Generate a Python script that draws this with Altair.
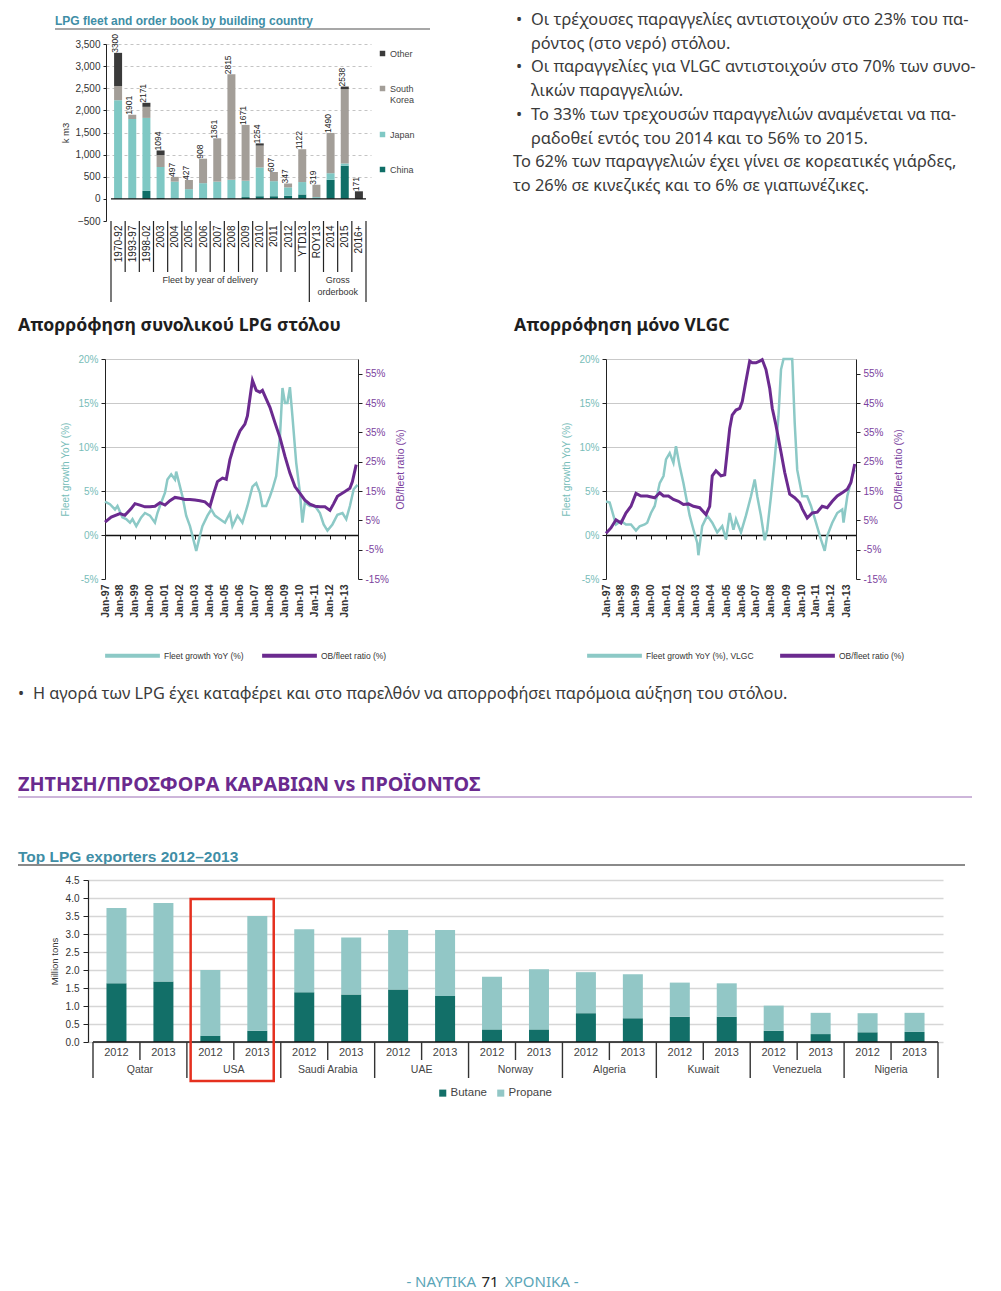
import json
import altair as alt
import pandas as pd

CHART_FONT = "Liberation Sans"
TEXT_FONT = "Noto Sans"

# ---------------- data: LPG fleet and order book ----------------
fleet_cats = ["1970-92", "1993-97", "1998-02", "2003", "2004", "2005", "2006", "2007", "2008",
              "2009", "2010", "2011", "2012", "YTD13", "ROY13", "2014", "2015", "2016+"]
fleet_china = [0, 0, 180, 20, 0, 0, 15, 0, 0, 40, 60, 60, 70, 100, 0, 430, 750, 0]
fleet_japan = [2230, 1805, 1650, 700, 390, 220, 340, 390, 430, 370, 650, 340, 190, 280, 40, 150, 50, 0]
fleet_korea = [320, 96, 250, 270, 107, 207, 553, 960, 2385, 1261, 494, 207, 87, 742, 279, 910, 1680, 0]
fleet_other = [750, 0, 91, 104, 0, 0, 0, 11, 0, 0, 50, 0, 0, 0, 0, 0, 58, 171]
fleet_builders = ["China", "Japan", "South Korea", "Other"]
fleet_colors = ["#0f6e67", "#7fc8c4", "#a39e98", "#3a3a3a"]
fleet_groups = ["Fleet by year of delivery", "Gross\norderbook"]
fleet_group_first = [0, 14]

# ---------------- data: fleet absorption lines ----------------
g1_dates = ["1997-01", "1997-05", "1997-09", "1997-11", "1998-03", "1998-06", "1998-09", "1998-11",
            "1999-02", "1999-06", "1999-09", "2000-01", "2000-05", "2000-07", "2000-10", "2001-01",
            "2001-03", "2001-06", "2001-09", "2001-10", "2002-01", "2002-03", "2002-06", "2002-09",
            "2002-11", "2003-02", "2003-05", "2003-07", "2003-11", "2004-02", "2004-05", "2004-09",
            "2005-01", "2005-05", "2005-07", "2005-11", "2006-03", "2006-07", "2006-11", "2007-02",
            "2007-05", "2007-07", "2007-10", "2008-01", "2008-03", "2008-06", "2008-09", "2008-11",
            "2009-01", "2009-03", "2009-05", "2009-07", "2009-10", "2010-01", "2010-03", "2010-05",
            "2010-09", "2011-01", "2011-05", "2011-08", "2011-11", "2012-03", "2012-07", "2012-11",
            "2013-02", "2013-05", "2013-08", "2013-11"]
g1_vals = [3.8, 3.5, 2.9, 3.3, 2.0, 1.8, 1.4, 1.8, 1.0, 2.0, 2.5, 2.2, 1.4, 2.5, 3.7, 4.8, 6.3, 6.9,
           6.3, 7.2, 5.5, 4.4, 2.2, 1.0, -0.1, -1.8, -0.1, 1.0, 2.2, 2.9, 2.2, 1.8, 1.4, 2.5, 1.0,
           2.2, 1.4, 3.3, 5.5, 5.9, 4.8, 3.3, 3.3, 4.4, 5.2, 6.7, 11.2, 16.7, 15.0, 15.0, 16.8, 13.5,
           8.2, 4.8, 1.4, 3.7, 3.3, 3.3, 2.5, 1.2, 0.5, 1.2, 2.3, 2.5, 1.8, 3.3, 5.2, 5.7]
o1_dates = ["1997-01", "1997-06", "1998-01", "1998-05", "1998-10", "1999-01", "1999-05", "1999-09",
            "2000-01", "2000-05", "2000-09", "2001-01", "2001-05", "2001-09", "2002-01", "2002-05",
            "2002-09", "2003-01", "2003-05", "2003-09", "2004-01", "2004-04", "2004-07", "2004-11",
            "2005-02", "2005-05", "2005-09", "2006-01", "2006-05", "2006-07", "2006-10", "2006-11",
            "2007-02", "2007-05", "2007-07", "2007-10", "2008-01", "2008-05", "2008-09", "2009-01",
            "2009-05", "2009-09", "2010-01", "2010-05", "2010-09", "2011-01", "2011-05", "2011-09",
            "2012-01", "2012-04", "2012-07", "2013-01", "2013-05", "2013-07", "2013-10"]
o1_vals = [4.4, 6.1, 7.3, 6.7, 9.0, 10.7, 10.2, 9.6, 9.6, 9.8, 11.0, 10.2, 11.7, 12.8, 12.5, 12.1,
           12.1, 11.9, 11.7, 11.3, 9.8, 14.2, 18.2, 19.4, 19.0, 25.7, 31.4, 35.5, 37.8, 40.6, 49.8,
           52.7, 49.3, 48.7, 49.3, 46.4, 43.5, 38.3, 33.2, 26.8, 21.1, 16.5, 14.2, 11.9, 10.5, 9.8,
           9.6, 9.6, 8.4, 10.7, 13.2, 14.8, 15.9, 18.2, 24.0]
g2_dates = ["1997-01", "1997-04", "1997-07", "1997-09", "1998-01", "1998-05", "1998-09", "1999-01",
            "1999-04", "1999-08", "1999-10", "2000-01", "2000-04", "2000-08", "2000-11", "2001-01",
            "2001-04", "2001-07", "2001-09", "2001-12", "2002-03", "2002-05", "2002-08", "2002-11",
            "2003-02", "2003-03", "2003-06", "2003-10", "2004-02", "2004-06", "2004-10", "2005-01",
            "2005-04", "2005-07", "2005-09", "2006-01", "2006-05", "2006-09", "2006-12", "2007-02",
            "2007-05", "2007-08", "2007-10", "2008-01", "2008-04", "2008-07", "2008-09", "2008-11",
            "2009-01", "2009-04", "2009-06", "2009-08", "2009-10", "2010-02", "2010-06", "2010-09",
            "2011-01", "2011-05", "2011-08", "2011-10", "2012-02", "2012-06", "2012-10", "2012-11",
            "2013-02", "2013-06", "2013-08"]
g2_vals = [3.8, 3.7, 2.2, 1.2, 1.6, 1.2, 1.2, 0.5, 1.0, 1.2, 1.4, 2.5, 3.3, 5.9, 6.7, 8.6, 9.3, 8.2,
           10.1, 7.8, 5.9, 4.4, 2.2, 0.6, -0.9, -2.3, 1.0, 2.2, 1.4, 0.3, 1.0, -0.5, 2.5, 0.6, 1.8,
           0.3, 2.2, 4.4, 6.3, 4.4, 2.2, -0.6, 0.6, 4.4, 8.6, 13.5, 18.8, 22.0, 21.0, 22.0, 22.0,
           12.7, 7.4, 4.4, 4.4, 3.3, 1.4, -0.5, -1.8, -0.1, 1.4, 2.5, 2.9, 1.4, 4.4, 6.7, 7.4]
o2_dates = ["1997-01", "1997-05", "1997-09", "1998-01", "1998-05", "1998-09", "1999-01", "1999-05",
            "1999-10", "2000-04", "2000-08", "2000-11", "2001-03", "2001-07", "2001-11", "2002-03",
            "2002-07", "2002-11", "2003-04", "2003-09", "2003-12", "2004-02", "2004-05", "2004-09",
            "2004-12", "2005-04", "2005-06", "2005-09", "2005-12", "2006-02", "2006-05", "2006-08",
            "2006-10", "2007-01", "2007-04", "2007-06", "2007-09", "2007-12", "2008-02", "2008-05",
            "2008-09", "2008-12", "2009-04", "2009-08", "2009-12", "2010-02", "2010-06", "2010-10",
            "2011-02", "2011-06", "2011-10", "2012-02", "2012-06", "2012-10", "2013-02", "2013-05",
            "2013-08"]
o2_vals = [0.6, 2.4, 5.2, 4.1, 7.5, 9.8, 14.2, 13.3, 13.3, 12.7, 14.4, 13.3, 13.3, 12.1, 11.5, 10.4,
           10.6, 9.8, 9.3, 7.0, 9.8, 20.2, 21.9, 20.2, 20.5, 36.3, 40.9, 42.6, 43.2, 45.5, 52.4, 59.3,
           58.7, 58.7, 59.3, 59.8, 56.4, 50.0, 43.2, 37.4, 28.2, 21.3, 13.9, 12.7, 11.0, 8.9, 5.8,
           7.5, 7.8, 9.8, 9.3, 11.5, 13.3, 14.4, 15.6, 17.9, 24.2]

# ---------------- data: top LPG exporters ----------------
exp_countries = ["Qatar", "USA", "Saudi Arabia", "UAE", "Norway", "Algeria", "Kuwait", "Venezuela", "Nigeria"]
exp_years = ["2012", "2013"]
exp_butane = [1.63, 1.68, 0.17, 0.31, 1.38, 1.32, 1.46, 1.28, 0.35, 0.35, 0.80, 0.66, 0.70, 0.70,
              0.31, 0.22, 0.27, 0.28]
exp_propane = [2.09, 2.18, 1.83, 3.19, 1.75, 1.58, 1.65, 1.83, 1.46, 1.67, 1.14, 1.22, 0.95, 0.93,
               0.70, 0.59, 0.53, 0.53]
exp_highlight = "USA"

# ---------------- texts ----------------
para_lines = [
    "Οι τρέχουσες παραγγελίες αντιστοιχούν στο 23% του πα-",
    "ρόντος (στο νερό) στόλου.",
    "Οι παραγγελίες για VLGC αντιστοιχούν στο 70% των συνο-",
    "λικών παραγγελιών.",
    "Το 33% των τρεχουσών παραγγελιών αναμένεται να πα-",
    "ραδοθεί εντός του 2014 και το 56% το 2015.",
    "Το 62% των παραγγελιών έχει γίνει σε κορεατικές γιάρδες,",
    "το 26% σε κινεζικές και το 6% σε γιαπωνέζικες.",
]
para_kinds = ["bullet", "cont", "bullet", "cont", "bullet", "cont", "plain", "plain"]
title_total = "Απορρόφηση συνολικού LPG στόλου"
title_vlgc = "Απορρόφηση μόνο VLGC"
bullet_text = "Η αγορά των LPG έχει καταφέρει και στο παρελθόν να απορροφήσει παρόμοια αύξηση του στόλου."
section_text = "ΖΗΤΗΣΗ/ΠΡΟΣΦΟΡΑ ΚΑΡΑΒΙΩΝ vs ΠΡΟΪΟΝΤΟΣ"
fleet_title = "LPG fleet and order book by building country"
exp_title = "Top LPG exporters 2012–2013"
footer_parts = ["- ΝΑΥΤΙΚΑ", "71", "ΧΡΟΝΙΚΑ -"]

TEAL = "#8cc9c6"
PURPLE = "#6b2a8f"
TEAL_LBL = "#78bdb9"
PURP_LBL = "#7b3f9e"
CAPTION = "#3f8ea6"
BODY = "#3a3a3a"

W, H = 985, 1283  # whole page area (origin = page pixel 8,8)


# ---------------- helpers ----------------
def txt(s, x, y, align="left", **kw):
    return alt.Chart(pd.DataFrame({"t": [s]})).mark_text(align=align, baseline="middle", **kw).encode(
        text="t:N", x=alt.value(x), y=alt.value(y))


def hrule(x1, x2, y, color, w):
    return alt.Chart(pd.DataFrame({"r": [0]})).mark_rule(color=color, strokeWidth=w).encode(
        x=alt.value(x1), x2=alt.value(x2), y=alt.value(y))


# ---------------- fleet bar chart ----------------
n = len(fleet_cats)
rows = []
for i, c in enumerate(fleet_cats):
    for k, arr in enumerate([fleet_china, fleet_japan, fleet_korea, fleet_other]):
        rows.append({"cat": c, "xc": i + 0.5, "builder": fleet_builders[k], "ord": k, "kt": arr[i]})
fleet_df = pd.DataFrame(rows)
tot_df = fleet_df.groupby(["cat", "xc"], as_index=False)["kt"].sum().rename(columns={"kt": "total"})
sep_df = pd.DataFrame({"b": list(range(n + 1))})
sep_df["y1"] = -500
sep_df["y2"] = [-2330 if (b in fleet_group_first or b == n) else -1652 for b in sep_df["b"]]
bounds_g = fleet_group_first + [n]
grp_df = pd.DataFrame({"label": fleet_groups,
                       "xc": [(bounds_g[j] + bounds_g[j + 1]) / 2 for j in range(len(fleet_groups))]})
grp_df["y"] = -1743
zero_f = pd.DataFrame({"x0": [0], "x1": [n], "y": [0]})

F_X0, F_X1, F_YT, F_YB = 98, 363, 36, 213
fxs = alt.Scale(domain=[0, n], range=[F_X0, F_X1], nice=False, zero=False)
fys = alt.Scale(domain=[-500, 3500], range=[F_YB, F_YT], nice=False, zero=False)

f_bars = alt.Chart(fleet_df).mark_bar(size=8).encode(
    x=alt.X("xc:Q", scale=fxs, axis=alt.Axis(
        orient="bottom", offset=-(H - F_YB),
        values=[i + 0.5 for i in range(n)], labelExpr=json.dumps(fleet_cats) + "[floor(datum.value)]",
        labelAngle=270, domain=False, ticks=False, tickSize=0, grid=False, labelPadding=4,
        labelFont=CHART_FONT, labelFontSize=10, labelColor="#222", labelFlush=False,
        labelOverlap=False, title=None)),
    y=alt.Y("kt:Q", stack="zero", scale=fys, axis=alt.Axis(
        orient="left", offset=-F_X0,
        values=list(range(-500, 3501, 500)), labelExpr="format(datum.value, ',.0f')",
        labelFont=CHART_FONT, labelFontSize=10,
        labelColor="#333", domainColor="#222", tickColor="#222", tickSize=3, labelPadding=3,
        grid=True, gridDash=[3, 3],
        gridColor={"condition": {"test": "datum.value <= 0", "value": "transparent"}, "value": "#c4c4c4"},
        title="k m3", titleFont=CHART_FONT, titleFontSize=9.5, titleFontWeight="normal",
        titleColor="#333", titlePadding=4)),
    color=alt.Color("builder:N", scale=alt.Scale(domain=fleet_builders, range=fleet_colors),
                    legend=alt.Legend(orient="none", legendX=370, legendY=41,
                                      values=["Other", "South Korea", "Japan", "China"], title=None,
                                      symbolType="square", symbolSize=30, labelFont=CHART_FONT,
                                      labelFontSize=9, labelColor="#444", rowPadding=25, labelOffset=3,
                                      labelExpr="datum.label == 'South Korea' ? ['South', 'Korea'] : datum.label")),
    order=alt.Order("ord:Q"),
)
f_zero = alt.Chart(zero_f).mark_rule(color="#111", strokeWidth=1.2).encode(
    x=alt.X("x0:Q", scale=fxs, axis=None), x2="x1:Q", y=alt.Y("y:Q", scale=fys, axis=None))
f_seps = alt.Chart(sep_df).mark_rule(color="#222", strokeWidth=1.2).encode(
    x=alt.X("b:Q", scale=fxs, axis=None), y=alt.Y("y1:Q", scale=fys, axis=None), y2="y2:Q")
f_tot = alt.Chart(tot_df).mark_text(angle=270, align="left", baseline="middle", dy=-3,
                                    font=CHART_FONT, fontSize=8.5, color="#222").encode(
    x=alt.X("xc:Q", scale=fxs, axis=None), y=alt.Y("total:Q", scale=fys, axis=None), text="total:Q")
f_grp = alt.Chart(grp_df).mark_text(align="center", baseline="top", lineBreak="\n", lineHeight=12,
                                    font=CHART_FONT, fontSize=9, color="#333").encode(
    x=alt.X("xc:Q", scale=fxs, axis=None), y=alt.Y("y:Q", scale=fys, axis=None), text="label:N")
fleet_panel = alt.layer(f_bars, f_zero, f_seps, f_tot, f_grp).resolve_axis(x="independent", y="independent")

# ---------------- paragraph block ----------------
para_df = pd.DataFrame({"line": para_lines, "kind": para_kinds, "i": list(range(len(para_lines)))})
py = alt.Y("i:Q", scale=alt.Scale(domain=[0, len(para_lines) - 1], range=[12, 178]), axis=None)
para_text = alt.Chart(para_df).transform_calculate(
    xp="datum.kind == 'plain' ? 505 : 523").mark_text(
    align="left", baseline="middle", font=TEXT_FONT, fontSize=16.4, color=BODY).encode(
    text="line:N", x=alt.X("xp:Q", scale=None, axis=None), y=py)
para_bul = alt.Chart(para_df).transform_filter("datum.kind == 'bullet'").transform_calculate(
    b="'•'").mark_text(align="left", baseline="middle", font=TEXT_FONT, fontSize=16.4,
                       color=BODY).encode(text="b:N", x=alt.value(508), y=py)
para_panel = alt.layer(para_text, para_bul)


# ---------------- line charts ----------------
L_YT, L_YB = 351, 571


def line_panel(t_dates, t_vals, p_dates, p_vals, t_name, p_name, x0, x1, x_end, legend_x, gap):
    t_df = pd.DataFrame({"date": [d + "-01" for d in t_dates], "v": t_vals, "series": t_name})
    p_df = pd.DataFrame({"date": [d + "-01" for d in p_dates], "v": p_vals, "series": p_name})
    xs = alt.Scale(domain=[alt.DateTime(year=1997, month=1, date=1), x_end], range=[x0, x1], nice=False)
    cs = alt.Scale(domain=[t_name, p_name], range=[TEAL, PURPLE])
    leg = alt.Legend(orient="none", legendX=legend_x, legendY=618, direction="horizontal", title=None,
                     symbolType="stroke", symbolSize=3000, symbolStrokeWidth=4, labelFont=CHART_FONT,
                     labelFontSize=8.5, labelColor="#333", columnPadding=gap, labelOffset=2)
    left = alt.Scale(domain=[-5, 20], range=[L_YB, L_YT], nice=False, zero=False, clamp=True)
    right = alt.Scale(domain=[-15, 60], range=[L_YB, L_YT], nice=False, zero=False, clamp=True)
    zero_y = L_YB - (L_YB - L_YT) * 5 / 25
    year_ticks = {"interval": "year", "step": 1}
    teal = alt.Chart(t_df).mark_line(strokeWidth=2.5).encode(
        x=alt.X("date:T", scale=xs, axis=alt.Axis(
            orient="bottom", offset=-(H - L_YB), format="%b-%y", labelAngle=270, tickCount=year_ticks,
            domain=False, ticks=False, tickSize=0, grid=False, labelPadding=5, labelFont=CHART_FONT,
            labelFontSize=10.5, labelColor="#333", labelFontWeight="bold", labelFlush=False,
            labelOverlap=False, title=None)),
        y=alt.Y("v:Q", scale=left, axis=alt.Axis(
            orient="left", offset=-x0, values=[-5, 0, 5, 10, 15, 20], labelExpr="datum.value + '%'",
            labelFont=CHART_FONT, labelFontSize=10, labelColor=TEAL_LBL, domainColor="#222",
            tickColor="#222", tickSize=4, labelPadding=3, grid=True,
            gridColor={"condition": {"test": "datum.value < 0", "value": "transparent"}, "value": "#c9c9c9"},
            title="Fleet growth YoY (%)", titleFont=CHART_FONT, titleFontSize=10,
            titleFontWeight="normal", titleColor=TEAL_LBL, titlePadding=7)),
        color=alt.Color("series:N", scale=cs, legend=leg))
    purple = alt.Chart(p_df).mark_line(strokeWidth=3).encode(
        x=alt.X("date:T", scale=xs, axis=None),
        y=alt.Y("v:Q", scale=right, axis=alt.Axis(
            orient="right", offset=-(W - x1), values=[-15, -5, 5, 15, 25, 35, 45, 55],
            labelExpr="datum.value + '%'",
            labelFont=CHART_FONT, labelFontSize=10, labelColor=PURP_LBL, domainColor="#222",
            tickColor="#222", tickSize=4, labelPadding=3, grid=False,
            title="OB/fleet ratio (%)", titleAngle=270, titleFont=CHART_FONT, titleFontSize=10.5,
            titleFontWeight="normal", titleColor=PURP_LBL, titlePadding=17)),
        color=alt.Color("series:N", scale=cs, legend=leg))
    zero = alt.Chart(t_df).mark_line(strokeOpacity=0).encode(
        x=alt.X("date:T", scale=xs, axis=alt.Axis(
            orient="bottom", offset=-(H - zero_y), labels=False, domain=True, domainColor="#111",
            domainWidth=1.3, ticks=True, tickColor="#111", tickSize=4, tickCount=year_ticks,
            grid=False, title=None)),
        y=alt.Y("v:Q", scale=left, axis=None))
    return alt.layer(teal, purple, zero).resolve_scale(y="independent").resolve_axis(
        x="independent", y="independent")


line1 = line_panel(g1_dates, g1_vals, o1_dates, o1_vals, "Fleet growth YoY (%)", "OB/fleet ratio (%)",
                   97, 350, alt.DateTime(year=2013, month=11, date=14), 95, 10)
line2 = line_panel(g2_dates, g2_vals, o2_dates, o2_vals, "Fleet growth YoY (%), VLGC", "OB/fleet ratio (%)",
                   598, 848, alt.DateTime(year=2013, month=9, date=1), 577, 18)

# ---------------- exporters chart ----------------
m = len(exp_countries) * len(exp_years)
erows = []
for g, c in enumerate(exp_countries):
    for yi, yr in enumerate(exp_years):
        idx = g * len(exp_years) + yi
        erows.append({"country": c, "year": yr, "xc": idx + 0.5, "product": "Butane", "ord": 0,
                      "mt": exp_butane[idx]})
        erows.append({"country": c, "year": yr, "xc": idx + 0.5, "product": "Propane", "ord": 1,
                      "mt": exp_propane[idx]})
exp_df = pd.DataFrame(erows)
year_df = exp_df[exp_df["product"] == "Butane"][["year", "xc"]].copy()
year_df["y"] = -0.31
cty_df = pd.DataFrame({"country": exp_countries,
                       "xc": [g * len(exp_years) + len(exp_years) / 2 for g in range(len(exp_countries))]})
cty_df["y"] = -0.78
esep_df = pd.DataFrame({"b": list(range(m + 1))})
esep_df["y1"] = 0
esep_df["y2"] = [-1.0 if b % len(exp_years) == 0 else -0.5 for b in esep_df["b"]]
hi = exp_countries.index(exp_highlight) * len(exp_years)
box_df = pd.DataFrame({"x0": [hi + 0.08], "x1": [hi + len(exp_years) - 0.15], "y0": [3.97], "y1": [-1.08]})
ezero = pd.DataFrame({"x0": [0], "x1": [m], "y": [0]})

E_X0, E_X1, E_YT, E_YB = 80, 935, 872, 1034
exs = alt.Scale(domain=[0, m], range=[E_X0, E_X1], nice=False, zero=False)
eys = alt.Scale(domain=[0, 4.5], range=[E_YB, E_YT], nice=False, zero=False)
e_bars = alt.Chart(exp_df).mark_bar(size=20).encode(
    x=alt.X("xc:Q", scale=exs, axis=None),
    y=alt.Y("mt:Q", stack="zero", scale=eys, axis=alt.Axis(
        orient="left", offset=-E_X0,
        values=[v / 2 for v in range(10)], labelExpr="format(datum.value, '.1f')",
        labelFont=CHART_FONT, labelFontSize=10,
        labelColor="#333", domainColor="#222", domainWidth=1.2, tickColor="#222", tickSize=5,
        labelPadding=4, grid=True, gridColor="#d6d6d6", gridWidth=1.3, title="Million tons",
        titleFont=CHART_FONT, titleFontSize=9.5, titleFontWeight="normal", titleColor="#333",
        titlePadding=6)),
    color=alt.Color("product:N", scale=alt.Scale(domain=["Butane", "Propane"], range=["#126f68", "#92c7c6"]),
                    legend=alt.Legend(orient="none", legendX=429, legendY=1079, direction="horizontal",
                                      title=None, symbolType="square", symbolSize=50,
                                      labelFont=CHART_FONT, labelFontSize=11.5, labelColor="#444",
                                      columnPadding=8, labelOffset=2)),
    order=alt.Order("ord:Q"),
)
e_zero = alt.Chart(ezero).mark_rule(color="#111", strokeWidth=1.4).encode(
    x=alt.X("x0:Q", scale=exs, axis=None), x2="x1:Q", y=alt.Y("y:Q", scale=eys, axis=None))
e_seps = alt.Chart(esep_df).mark_rule(color="#333", strokeWidth=1.4).encode(
    x=alt.X("b:Q", scale=exs, axis=None), y=alt.Y("y1:Q", scale=eys, axis=None), y2="y2:Q")
e_years = alt.Chart(year_df).mark_text(font=CHART_FONT, fontSize=11, color="#444", baseline="middle").encode(
    x=alt.X("xc:Q", scale=exs, axis=None), y=alt.Y("y:Q", scale=eys, axis=None), text="year:N")
e_cty = alt.Chart(cty_df).mark_text(font=CHART_FONT, fontSize=10.5, color="#444", baseline="middle").encode(
    x=alt.X("xc:Q", scale=exs, axis=None), y=alt.Y("y:Q", scale=eys, axis=None), text="country:N")
e_box = alt.Chart(box_df).mark_rect(fillOpacity=0, stroke="#e5301f", strokeWidth=2.5).encode(
    x=alt.X("x0:Q", scale=exs, axis=None), x2="x1:Q", y=alt.Y("y0:Q", scale=eys, axis=None), y2="y1:Q")
exp_panel = alt.layer(e_bars, e_zero, e_seps, e_years, e_cty, e_box).resolve_axis(x="independent", y="independent")

# ---------------- free texts ----------------
texts = [
    txt(fleet_title, 47, 13, font=CHART_FONT, fontSize=12, fontWeight="bold", color=CAPTION),
    hrule(47, 422, 21, "#8a8a8a", 1.5),
    txt(title_total, 10, 318, font=TEXT_FONT, fontSize=17.7, fontWeight="bold", color="#1e1e1e"),
    txt(title_vlgc, 506, 318, font=TEXT_FONT, fontSize=17.7, fontWeight="bold", color="#1e1e1e"),
    txt("•", 10, 686, font=TEXT_FONT, fontSize=16.3, color=BODY),
    txt(bullet_text, 25, 686, font=TEXT_FONT, fontSize=16.3, color=BODY),
    txt(section_text, 10, 777, font=TEXT_FONT, fontSize=19.8, fontWeight="bold", color="#6a2a8e"),
    hrule(10, 964, 789, "#9b6cb5", 1),
    txt(exp_title, 10, 849, font=CHART_FONT, fontSize=15.5, fontWeight="bold", color=CAPTION),
    hrule(10, 957, 857, "#8a8a8a", 2),
    txt(footer_parts[0], 468, 1274, align="right", font=TEXT_FONT, fontSize=15, color="#5ba6b8"),
    txt(footer_parts[1], 482, 1274, align="center", font=TEXT_FONT, fontSize=15, color="#222"),
    txt(footer_parts[2], 497, 1274, align="left", font=TEXT_FONT, fontSize=15, color="#5ba6b8"),
]

chart = alt.layer(fleet_panel, para_panel, line1, line2, exp_panel, *texts).resolve_scale(
    x="independent", y="independent", color="independent"
).properties(
    width=W, height=H, padding=0, autosize=alt.AutoSizeParams(type="none"), background="white"
).configure_view(strokeWidth=0, stroke="transparent")

chart.save("out.html", embed_options={"renderer": "svg", "actions": False})
